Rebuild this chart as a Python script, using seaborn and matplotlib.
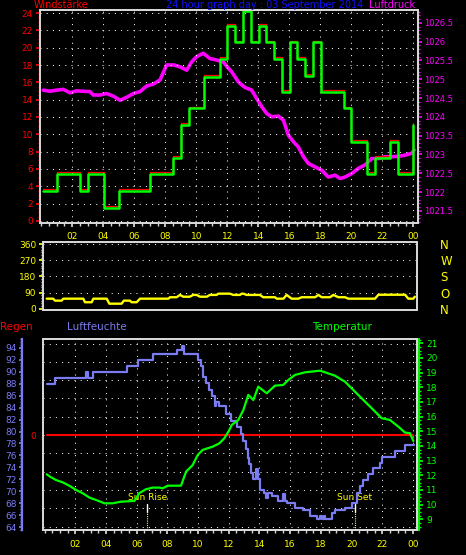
import matplotlib
matplotlib.use('Agg')
import matplotlib.pyplot as plt
import matplotlib.transforms as mtransforms
from matplotlib.ticker import FixedLocator, MultipleLocator
import seaborn as sns

# wind speed (step line), hours / value
wind_h = [0.13, 1.0, 2.5, 3.03, 4.05, 5.0, 7.0, 8.5, 9.0, 9.5, 10.5, 11.55, 12.0, 12.5, 13.0, 13.5,
          14.06, 14.5, 15.0, 15.55, 16.05, 16.5, 17.0, 17.5, 18.05, 19.5, 20.0, 21.0, 21.5, 22.5, 23.0, 24.0]
wind_v = [3.5, 5.4, 3.5, 5.4, 1.5, 3.5, 5.4, 7.3, 11.1, 13.0, 16.6, 18.7, 22.5, 20.6, 24.2, 20.6,
          22.5, 20.6, 18.7, 14.9, 20.6, 18.7, 16.7, 20.6, 14.9, 13.0, 9.15, 5.4, 7.3, 9.15, 5.4, 11.1]

# air pressure (hPa)
pres_h = [0.13, 0.56, 0.99, 1.42, 1.85, 2.28, 2.71, 3.14, 3.36, 3.79, 4.22, 4.65, 5.08, 5.51, 5.94,
          6.37, 6.80, 7.23, 7.66, 8.09, 8.52, 8.95, 9.38, 9.70, 10.02, 10.45, 10.88, 11.31, 11.74,
          12.07, 12.28, 12.71, 13.14, 13.57, 13.89, 14.22, 14.54, 14.86, 15.29, 15.62, 15.94, 16.26,
          16.58, 16.91, 17.23, 17.66, 18.09, 18.52, 18.95, 19.27, 19.59, 20.02, 20.45, 20.88, 21.31,
          21.74, 22.17, 22.6, 23.03, 23.46, 23.89, 24.06]
pres_v = [1024.71, 1024.68, 1024.71, 1024.73, 1024.64, 1024.69, 1024.68, 1024.67, 1024.58, 1024.58,
          1024.62, 1024.55, 1024.44, 1024.52, 1024.62, 1024.67, 1024.82, 1024.87, 1024.98, 1025.38,
          1025.38, 1025.33, 1025.24, 1025.46, 1025.60, 1025.69, 1025.55, 1025.51, 1025.46, 1025.29,
          1025.20, 1024.93, 1024.78, 1024.71, 1024.49, 1024.27, 1024.09, 1024.00, 1024.02, 1023.91,
          1023.51, 1023.34, 1023.20, 1022.94, 1022.76, 1022.67, 1022.58, 1022.40, 1022.45, 1022.36,
          1022.40, 1022.49, 1022.63, 1022.72, 1022.89, 1022.89, 1022.94, 1022.94, 1022.95, 1022.98,
          1023.03, 1023.12]

# wind direction (degrees)
dir_h = [0.35, 0.77, 0.88, 1.31, 1.42, 2.71, 2.82, 3.25, 3.36, 4.22, 4.39, 5.18, 5.33, 5.72, 5.83,
         6.15, 6.37, 8.2, 8.3, 8.73, 8.95, 9.16, 9.59, 9.8, 10.02, 10.24, 10.67, 10.88, 11.31, 11.42,
         12.17, 12.39, 12.82, 12.93, 13.03, 13.25, 14.1, 14.32, 15.08, 15.19, 15.62, 15.83, 16.15,
         16.58, 16.8, 17.66, 17.88, 18.09, 18.63, 18.84, 19.17, 19.6, 19.81, 21.53, 21.75, 23.47,
         23.68, 24.0, 24.1]
dir_v = [56, 56, 45, 45, 56, 56, 36, 36, 56, 56, 28, 28, 45, 45, 36, 36, 56, 56, 64, 64, 77, 67, 67,
         77, 77, 67, 67, 77, 77, 84, 84, 77, 77, 84, 84, 77, 77, 64, 64, 56, 56, 77, 56, 56, 64, 64,
         77, 64, 64, 77, 64, 64, 56, 56, 78, 78, 56, 56, 67]
dir_ticks = [0, 90, 180, 270, 360]
dir_names = ['N', 'O', 'S', 'W', 'N']

# humidity (%), step line
hum_h = [0.14, 0.68, 2.70, 2.85, 3.18, 5.39, 6.11, 7.08, 8.60, 8.93, 9.10, 10.01, 10.20, 10.35, 10.50,
         10.70, 10.90, 11.10, 11.20, 11.35, 11.85, 12.14, 12.51, 12.79, 12.95, 13.10, 13.23, 13.32,
         13.45, 13.60, 13.80, 13.92, 14.03, 14.30, 14.40, 14.55, 14.79, 15.23, 15.55, 15.66, 15.77,
         16.31, 16.86, 17.29, 17.72, 17.95, 18.05, 18.20, 18.30, 18.70, 18.92, 19.57, 20.00, 20.33,
         20.54, 20.76, 21.09, 21.41, 21.85, 21.96, 22.83, 23.48, 24.05]
hum_v = [88.0, 89.0, 90.0, 89.0, 90.0, 91.0, 92.0, 93.0, 93.7, 94.3, 93.0, 92.0, 90.9, 89.2, 88.1,
         87.0, 86.0, 84.2, 85.0, 84.2, 82.9, 81.8, 80.8, 79.6, 78.4, 77.0, 75.6, 74.5,
         73.1, 72.0, 73.7, 72.0, 70.2, 69.7, 68.9, 69.7, 69.2, 68.3, 69.5, 68.3, 68.0,
         67.2, 66.9, 65.9, 65.3, 65.8, 65.3, 65.8, 65.3, 66.3, 66.8, 67.2, 68.0, 69.7,
         70.8, 71.8, 72.9, 73.9, 74.8, 75.8, 76.7, 77.8, 77.8]

# temperature (deg C)
temp_h = [0.14, 0.35, 0.74, 1.18, 1.61, 2.05, 2.48, 2.92, 3.35, 3.9, 4.44, 4.98, 5.85, 6.17, 6.61,
          7.04, 7.5, 7.69, 8.02, 8.89, 9.22, 9.65, 9.98, 10.3, 10.95, 11.39, 11.71, 12.04, 12.19,
          12.62, 12.95, 13.27, 13.6, 13.92, 14.47, 15.01, 15.55, 15.88, 16.31, 16.97, 17.94, 18.27,
          18.92, 19.57, 20.0, 20.65, 21.31, 21.96, 22.5, 23.05, 23.48, 23.8, 24.02]
temp_v = [12.07, 11.91, 11.68, 11.52, 11.29, 11.0, 10.78, 10.48, 10.32, 10.09, 10.09, 10.2, 10.25,
          10.78, 11.05, 11.16, 11.16, 11.11, 11.29, 11.29, 12.25, 12.7, 13.39, 13.73, 13.95, 14.18,
          14.52, 15.09, 15.43, 15.77, 16.45, 17.48, 17.13, 18.04, 17.59, 18.11, 18.16, 18.5, 18.84,
          19.02, 19.13, 19.02, 18.79, 18.38, 17.93, 17.25, 16.57, 15.89, 15.77, 15.31, 14.91, 14.87,
          14.34]

# rain (mm)
rain_h = [0.14, 24.0]
rain_v = [0, 0]

sun_h = [6.69, 20.22]
sun_names = ['Sun Rise', 'Sun Set']

hour_ticks = list(range(2, 25, 2))
hour_labels = ['%02d' % (h % 24) for h in hour_ticks]

sns.set_theme(style='dark', rc={'axes.facecolor': 'black', 'figure.facecolor': 'black',
                                'savefig.facecolor': 'black'})
plt.rcParams['font.family'] = ['DejaVu Sans']

BOX = '#d8d8d8'
YEL = '#ffff00'
HUM = '#7b7bf2'
DOT = (0, (1, 5.2))
W, H = 466, 555


def px(x, y):
    return x / W, 1 - y / H


def box(ax):
    for s in ax.spines.values():
        s.set_color(BOX)
        s.set_linewidth(1.3)


fig = plt.figure(figsize=(W / 100, H / 100), dpi=100)

# ---- top panel: wind speed + pressure
ax1 = fig.add_axes([40 / W, 1 - 223.3 / H, 378 / W, 213.3 / H])
axp = ax1.twinx()
ax1.set_zorder(axp.get_zorder() + 1)
ax1.patch.set_visible(False)

sns.lineplot(x=pres_h, y=pres_v, ax=axp, color='#ff00ff', lw=2.6, estimator=None, sort=False)
up = ax1.transData + mtransforms.ScaledTranslation(0, 1.3 / 72, fig.dpi_scale_trans)
sns.lineplot(x=wind_h, y=wind_v, ax=ax1, color='red', lw=0.9, drawstyle='steps-post',
             estimator=None, sort=False, transform=up)
sns.lineplot(x=wind_h, y=wind_v, ax=ax1, color='#00ff00', lw=1.8, drawstyle='steps-post',
             estimator=None, sort=False)

ax1.set_xlim(-0.08, 24.3)
ax1.set_ylim(-0.27, 24.35)
axp.set_ylim(1021.17, 1026.84)
ax1.xaxis.set_major_locator(FixedLocator(hour_ticks))
ax1.set_xticklabels(hour_labels)
ax1.xaxis.set_minor_locator(MultipleLocator(0.5))
ax1.yaxis.set_major_locator(MultipleLocator(2))
ax1.yaxis.set_minor_locator(MultipleLocator(0.5))
ax1.tick_params(axis='x', which='both', bottom=True, colors=BOX, labelcolor=YEL, labelsize=6.5,
                length=3, pad=3.5)
ax1.tick_params(axis='x', which='minor', length=1.8)
ax1.tick_params(axis='y', which='both', left=True, colors='red', labelsize=6.5, length=3, pad=2)
ax1.tick_params(axis='y', which='minor', length=1.5)
axp.yaxis.set_major_locator(MultipleLocator(0.5))
axp.yaxis.set_minor_locator(MultipleLocator(0.1))
axp.yaxis.set_major_formatter(lambda v, p: ('%.1f' % v).replace('.0', ''))
axp.tick_params(axis='y', which='both', right=True, colors='#ff00ff', labelsize=6, length=3, pad=1.5)
axp.tick_params(axis='y', which='minor', length=1.5)
ax1.grid(True, which='major', color='white', linestyle=DOT, lw=0.72)
for a in (ax1, axp):
    a.set_xlabel('')
    a.set_ylabel('')
    box(a)

# ---- middle panel: wind direction
ax2 = fig.add_axes([43.3 / W, 1 - 310 / H, 373.4 / W, 68.3 / H])
sns.lineplot(x=dir_h, y=dir_v, ax=ax2, color=YEL, lw=1.7, estimator=None, sort=False)
ax2.set_xlim(0.13, 24.22)
ax2.set_ylim(-7.3, 374.5)
ax2.yaxis.set_major_locator(FixedLocator(dir_ticks))
ax2.yaxis.set_minor_locator(MultipleLocator(15))
ax2.tick_params(axis='x', bottom=False, labelbottom=False)
ax2.tick_params(axis='y', which='both', left=True, colors=YEL, labelsize=6.5, length=3, pad=2)
ax2.tick_params(axis='y', which='minor', length=1.5)
ax2.grid(True, axis='y', which='major', color='white', linestyle=DOT, lw=0.72)
ax2r = ax2.twinx()
ax2r.set_ylim(ax2.get_ylim())
ax2r.yaxis.set_major_locator(FixedLocator(dir_ticks))
ax2r.set_yticklabels(dir_names)
ax2r.tick_params(axis='y', right=True, length=0, pad=17, labelsize=8.5, labelcolor=YEL)
for a in (ax2, ax2r):
    a.set_xlabel('')
    a.set_ylabel('')
    box(a)

# ---- bottom panel: rain, humidity, temperature
ax3 = fig.add_axes([42.7 / W, 25 / H, 374.6 / W, 191 / H])
axh = ax3.twinx()
axt = ax3.twinx()

sns.lineplot(x=rain_h, y=rain_v, ax=ax3, color='red', lw=1.5, estimator=None, sort=False)
sns.lineplot(x=hum_h, y=hum_v, ax=axh, color=HUM, lw=1.6, drawstyle='steps-post',
             estimator=None, sort=False)
sns.lineplot(x=temp_h, y=temp_v, ax=axt, color='#00ff00', lw=1.6, estimator=None, sort=False)

ax3.set_xlim(-0.12, 24.28)
ax3.set_ylim(-5.19, 5.25)
axh.set_ylim(63.5, 95.5)
axt.set_ylim(8.27, 21.29)

ax3.xaxis.set_major_locator(FixedLocator(hour_ticks))
ax3.set_xticklabels(hour_labels)
ax3.xaxis.set_minor_locator(MultipleLocator(0.5))
ax3.tick_params(axis='x', which='both', bottom=True, colors=BOX, labelcolor=YEL, labelsize=6.5,
                length=3, pad=4)
ax3.tick_params(axis='x', which='minor', length=1.8)
rain_grid = list(range(-5, 6))
ax3.yaxis.set_major_locator(FixedLocator(rain_grid))
ax3.set_yticklabels(['0' if r == 0 else '' for r in rain_grid])
ax3.yaxis.set_minor_locator(FixedLocator([0]))
ax3.tick_params(axis='y', which='major', left=True, length=0, labelcolor='red', labelsize=6.5, pad=5)
ax3.tick_params(axis='y', which='minor', left=True, length=3, color='red')
ax3.grid(True, which='major', color='white', linestyle=DOT, lw=0.72)

axh.yaxis.set_ticks_position('left')
axh.yaxis.set_label_position('left')
axh.spines['left'].set_position(('axes', -0.056))
axh.spines['left'].set_visible(True)
axh.yaxis.set_major_locator(MultipleLocator(2))
axh.yaxis.set_minor_locator(MultipleLocator(0.5))
axh.tick_params(axis='y', which='both', left=True, right=False, colors=HUM, labelsize=6.5,
                length=2, pad=1.5)
axh.tick_params(axis='y', which='minor', length=1.2)

axt.spines['right'].set_position(('axes', 1.0046))
axt.yaxis.set_major_locator(MultipleLocator(1))
axt.yaxis.set_minor_locator(MultipleLocator(0.25))
axt.tick_params(axis='y', which='both', right=True, colors='#00ff00', labelsize=6.5, length=3,
                pad=2)
axt.tick_params(axis='y', which='minor', length=1.5)

for a in (ax3, axh, axt):
    a.set_xlabel('')
    a.set_ylabel('')
    box(a)
axh.spines['left'].set_color(HUM)
axh.spines['left'].set_linewidth(1.6)
axt.spines['right'].set_color('#00ff00')

# sun rise / sun set markers
for t, name in zip(sun_h, sun_names):
    ax3.axvline(t, ymin=0.094, ymax=0.136, color='white', lw=1)
    ax3.axvline(t, ymin=0.0, ymax=0.094, color=YEL, lw=0.8, linestyle=(0, (1, 1)))
    ax3.text(t, 0.168, name, transform=ax3.get_xaxis_transform(), color=YEL, fontsize=6.5,
             ha='center', va='center')

# headings
fig.text(*px(34, 5), 'Windstärke', color='red', fontsize=7, ha='left', va='center')
fig.text(*px(265, 5), '24 hour graph day : 03 September 2014', color='#1010ff', fontsize=7,
         ha='center', va='center')
fig.text(*px(415, 5), 'Luftdruck', color='#ff00ff', fontsize=7, ha='right', va='center')
fig.text(*px(0, 327), 'Regen', color='red', fontsize=7.5, ha='left', va='center')
fig.text(*px(67, 327), 'Luftfeuchte', color=HUM, fontsize=7.5, ha='left', va='center')
fig.text(*px(312, 327), 'Temperatur', color='#00ff00', fontsize=7.5, ha='left', va='center')

plt.savefig('out.png', dpi=100, facecolor='black')
